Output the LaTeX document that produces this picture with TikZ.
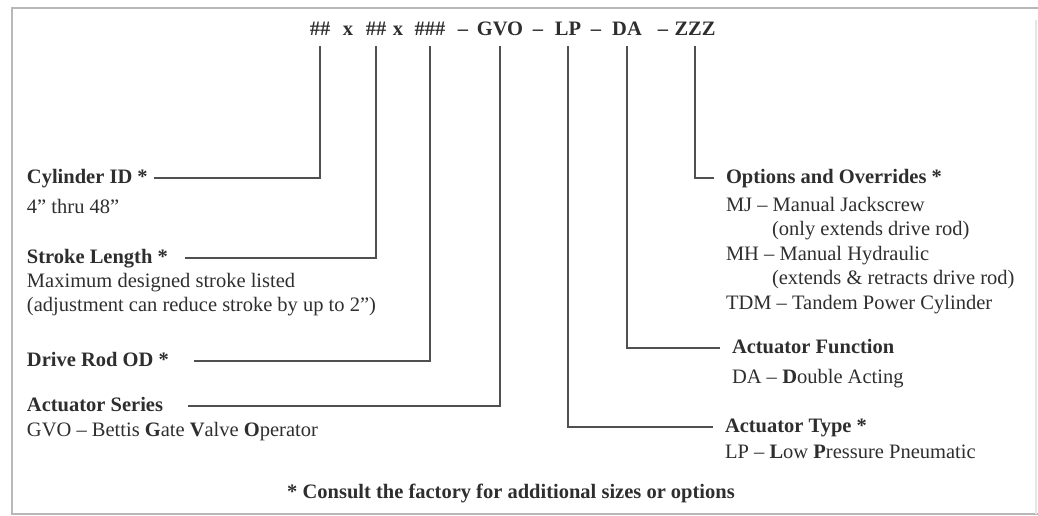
\documentclass[tikz,border=0pt]{standalone}
\usepackage{fontspec}
\setmainfont{Liberation Serif}
\usetikzlibrary{positioning}
\definecolor{ink}{HTML}{2E2E2E}
\definecolor{lead}{HTML}{505050}
\definecolor{rim}{HTML}{B8B8B8}

\begin{document}
\begin{tikzpicture}[x=1pt, y=-1pt,
      every node/.style={font=\fontsize{20.5}{24.5}\selectfont, text=ink},
      seg/.style={font=\fontsize{20.5}{24.5}\selectfont\bfseries, anchor=base, inner sep=0pt, outer ysep=11pt, text height=14pt, text depth=0pt},
      joiner/.style={seg},
      heading/.style={font=\fontsize{20.5}{24.5}\selectfont\bfseries, anchor=base west, inner xsep=0pt, inner ysep=0pt, outer xsep=6pt, text height=13pt, text depth=2pt},
      note/.style={anchor=north west, align=left, inner xsep=0pt, inner ysep=0pt, outer xsep=6pt},
      leader/.style={draw=lead, line width=1.8pt},
      rim/.style={draw=rim, line width=2pt}]
    \useasboundingbox (0,0) rectangle (1038,515);
    \draw[rim] (1038,8) -- (12,8) -- (12,514) -- (1038,514);
    \draw[draw=rim!35, line width=1.5pt] (1036,20) -- (1036,514);
    % model code
    \node[seg] (s1) at (320,35) {\#\#};
    \node[joiner] (x1) at (348,35) {x};
    \node[seg] (s2) at (376,35) {\#\#};
    \node[joiner] (x2) at (398,35) {x};
    \node[seg] (s3) at (430,35) {\#\#\#};
    \node[joiner] (d1) at (463,35) {–};
    \node[seg] (s4) at (500,35) {GVO};
    \node[joiner] (d2) at (538,35) {–};
    \node[seg] (s5) at (568,35) {LP};
    \node[joiner] (d3) at (596,35) {–};
    \node[seg] (s6) at (627,35) {DA};
    \node[joiner] (d4) at (663,35) {–};
    \node[seg] (s7) at (695,35) {ZZZ};
    % left column
    \node[heading] (cyl) at (21,183.5) {Cylinder ID *};
    \node[note] (cylN) at (21,199) {4” thru 48”};
    \node[heading] (str) at (21,263.5) {Stroke Length *};
    \node[note] (strN) at (21,273) {Maximum designed stroke listed\\(adjustment can reduce stroke by up to 2”)};
    \node[heading] (rod) at (21,366.5) {Drive Rod OD *};
    \node[heading] (ser) at (21,411.5) {Actuator Series};
    \node[note] (serN) at (21,422) {GVO – Bettis \textbf{G}ate \textbf{V}alve \textbf{O}perator};
    % right column
    \node[heading, outer xsep=12pt] (opt) at (714,183.5) {Options and Overrides *};
    \node[note] (optN) at (720,197) {MJ – Manual Jackscrew\\\hspace*{46pt}(only extends drive rod)\\MH – Manual Hydraulic\\\hspace*{46pt}(extends \& retracts drive rod)\\TDM – Tandem Power Cylinder};
    \node[heading, outer xsep=12pt] (fun) at (720,353.5) {Actuator Function};
    \node[note] (funN) at (726,369) {DA – \textbf{D}ouble Acting};
    \node[heading, outer xsep=12pt] (typ) at (713,432.5) {Actuator Type *};
    \node[note] (typN) at (719,445) {LP – \textbf{L}ow \textbf{P}ressure Pneumatic};
    \node[font=\fontsize{20.5}{24.5}\selectfont\bfseries, anchor=base] (foot) at (511,498) {* Consult the factory for additional sizes or options};
    % leaders
    \draw[leader] (cyl.east) -| (s1.south);
    \draw[leader] ([xshift=11pt]str.east) -| (s2.south);
    \draw[leader] ([xshift=19pt]rod.east) -| (s3.south);
    \draw[leader] ([xshift=19pt]ser.east) -| (s4.south);
    \draw[leader] (s5.south) |- (typ.west);
    \draw[leader] (s6.south) |- (fun.west);
    \draw[leader] (s7.south) |- (opt.west);
\end{tikzpicture}
\end{document}
